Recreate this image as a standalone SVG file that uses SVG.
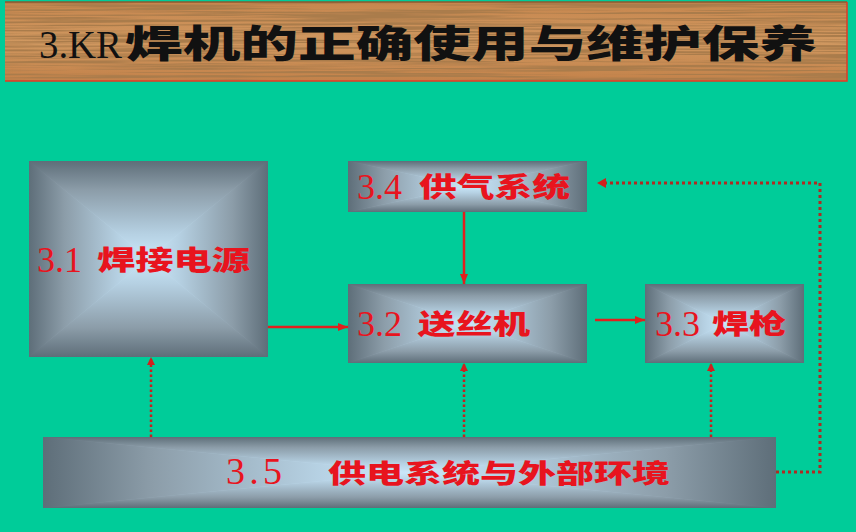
<svg xmlns="http://www.w3.org/2000/svg" width="856" height="532" viewBox="0 0 856 532">
<defs>
<style>
.bt{fill:url(#gT)}.bb{fill:url(#gB)}.bl{fill:url(#gL)}.br{fill:url(#gR)}.base{fill:url(#gC)}
.num{font-family:"Liberation Serif","Times New Roman",serif;fill:#E8141E}
.cn{font-family:"Noto Sans CJK SC","Noto Sans CJK JP",sans-serif;font-weight:900;fill:#E8141E}
.solid{stroke:#E0201E;stroke-width:2.5;fill:none}
.dot{stroke:#C8201E;stroke-width:2.5;fill:none;stroke-dasharray:2.5 2.5}
.dot2{stroke:#B02A22;stroke-width:3;fill:none;stroke-dasharray:3 3}
</style>
<linearGradient id="gT" x1="0" y1="0" x2="0" y2="1"><stop offset="0" stop-color="#5E6E79"/><stop offset="0.3" stop-color="#8C9DA9"/><stop offset="0.75" stop-color="#B6D1E3"/><stop offset="1" stop-color="#CAE7F9"/></linearGradient>
<linearGradient id="gB" x1="0" y1="1" x2="0" y2="0"><stop offset="0" stop-color="#5E6E79"/><stop offset="0.3" stop-color="#8C9DA9"/><stop offset="0.75" stop-color="#B6D1E3"/><stop offset="1" stop-color="#CAE7F9"/></linearGradient>
<linearGradient id="gL" x1="0" y1="0" x2="1" y2="0"><stop offset="0" stop-color="#5E6E79"/><stop offset="0.3" stop-color="#8C9DA9"/><stop offset="0.75" stop-color="#B6D1E3"/><stop offset="1" stop-color="#CAE7F9"/></linearGradient>
<linearGradient id="gR" x1="1" y1="0" x2="0" y2="0"><stop offset="0" stop-color="#5E6E79"/><stop offset="0.3" stop-color="#8C9DA9"/><stop offset="0.75" stop-color="#B6D1E3"/><stop offset="1" stop-color="#CAE7F9"/></linearGradient>
<radialGradient id="gC" cx="0.5" cy="0.5" r="0.7"><stop offset="0" stop-color="#CAE7F9"/><stop offset="0.4" stop-color="#B6D1E3"/><stop offset="0.8" stop-color="#8C9DA9"/><stop offset="1" stop-color="#5E6E79"/></radialGradient>
<linearGradient id="wood" x1="0" y1="0" x2="0" y2="1"><stop offset="0" stop-color="#C6864E"/><stop offset="0.5" stop-color="#D09860"/><stop offset="1" stop-color="#C3824A"/></linearGradient>
<filter id="grain" x="0" y="0" width="100%" height="100%">
<feTurbulence type="fractalNoise" baseFrequency="0.004 0.5" numOctaves="4" seed="7"/>
<feColorMatrix type="matrix" values="0 0 0 0 0.40  0 0 0 0 0.20  0 0 0 0 0.07  0 0 0 5 -2.1"/>
<feComposite in2="SourceGraphic" operator="in"/>
</filter>
<marker id="ah" viewBox="0 0 10 8" refX="10" refY="4" markerWidth="10" markerHeight="8" markerUnits="userSpaceOnUse" orient="auto"><path d="M0,0 L10,4 L0,8 Z" fill="#E0201E"/></marker>
<marker id="ahd" viewBox="0 0 8 8" refX="8" refY="4" markerWidth="8" markerHeight="8" markerUnits="userSpaceOnUse" orient="auto"><path d="M0,0 L8,4 L0,8 Z" fill="#D0201E"/></marker>
</defs>
<rect width="856" height="532" fill="#00CC99"/>
<g id="title">
<rect x="5" y="2" width="842" height="79" fill="url(#wood)"/>
<rect x="5" y="2" width="842" height="79" fill="#000" filter="url(#grain)"/>
<path d="M5,2 H847" stroke="#8A5A30" stroke-width="1.5"/>
<path d="M5,81 H847 V2" stroke="#E43A24" stroke-width="1.5" fill="none"/>
<text x="39" y="58" font-family="'Liberation Serif','Times New Roman',serif" font-size="41" fill="#111" textLength="83" lengthAdjust="spacingAndGlyphs">3.KR</text>
<text x="125" y="57" font-family="'Noto Sans CJK SC','Noto Sans CJK JP',sans-serif" font-weight="900" font-size="38" fill="#111" textLength="692" lengthAdjust="spacingAndGlyphs">焊机的正确使用与维护保养</text>
</g>
<g id="connectors">
<path class="solid" d="M268,327 H348" marker-end="url(#ah)"/>
<path class="solid" d="M464,212 V284" marker-end="url(#ah)"/>
<path class="solid" d="M595,320 H645" marker-end="url(#ah)"/>
<path class="dot" d="M151,437 V357" marker-end="url(#ahd)"/>
<path class="dot" d="M464,437 V363" marker-end="url(#ahd)"/>
<path class="dot" d="M711,437 V363" marker-end="url(#ahd)"/>
<path class="dot2" d="M776,472 H820 V183 H606"/>
<path d="M606,178 L597,183 L606,188 Z" fill="#D0201E"/>
</g>
<g id="n31">
<rect class="base" x="29" y="161" width="239" height="196"/>
<path class="bt" d="M29,161 H268 L148.5,258.5 Z"/>
<path class="bb" d="M29,357 H268 L148.5,258.5 Z"/>
<path class="bl" d="M29,161 V357 L148.5,258.5 Z"/>
<path class="br" d="M268,161 V357 L148.5,258.5 Z"/>
<text class="num" x="37" y="272" font-size="36">3.1</text>
<text class="cn" x="97" y="270" font-size="27" textLength="153" lengthAdjust="spacingAndGlyphs">焊接电源</text>
</g>
<g id="n34">
<rect class="base" x="348" y="161" width="239" height="51"/>
<path class="bt" d="M348,161 H587 L467.5,186.5 Z"/>
<path class="bb" d="M348,212 H587 L467.5,186.5 Z"/>
<path class="bl" d="M348,161 V212 L467.5,186.5 Z"/>
<path class="br" d="M587,161 V212 L467.5,186.5 Z"/>
<text class="num" x="357" y="199" font-size="36">3.4</text>
<text class="cn" x="419" y="197" font-size="27" textLength="151" lengthAdjust="spacingAndGlyphs">供气系统</text>
</g>
<g id="n32">
<rect class="base" x="348" y="284" width="239" height="79"/>
<path class="bt" d="M348,284 H587 L467.5,323.5 Z"/>
<path class="bb" d="M348,363 H587 L467.5,323.5 Z"/>
<path class="bl" d="M348,284 V363 L467.5,323.5 Z"/>
<path class="br" d="M587,284 V363 L467.5,323.5 Z"/>
<text class="num" x="357" y="336" font-size="36">3.2</text>
<text class="cn" x="418" y="334" font-size="27" textLength="112" lengthAdjust="spacingAndGlyphs">送丝机</text>
</g>
<g id="n33">
<rect class="base" x="645" y="284" width="159" height="79"/>
<path class="bt" d="M645,284 H804 L724.5,323.5 Z"/>
<path class="bb" d="M645,363 H804 L724.5,323.5 Z"/>
<path class="bl" d="M645,284 V363 L724.5,323.5 Z"/>
<path class="br" d="M804,284 V363 L724.5,323.5 Z"/>
<text class="num" x="655" y="336" font-size="36">3.3</text>
<text class="cn" x="712" y="334" font-size="27" textLength="74" lengthAdjust="spacingAndGlyphs">焊枪</text>
</g>
<g id="n35">
<rect class="base" x="43" y="437" width="733" height="71"/>
<path class="bt" d="M43,437 H776 L409.5,472.5 Z"/>
<path class="bb" d="M43,508 H776 L409.5,472.5 Z"/>
<path class="bl" d="M43,437 V508 L409.5,472.5 Z"/>
<path class="br" d="M776,437 V508 L409.5,472.5 Z"/>
<text class="num" x="226" y="484" font-size="38" textLength="56" lengthAdjust="spacing">3.5</text>
<text class="cn" x="328" y="483" font-size="26" textLength="342" lengthAdjust="spacingAndGlyphs">供电系统与外部环境</text>
</g>
</svg>
